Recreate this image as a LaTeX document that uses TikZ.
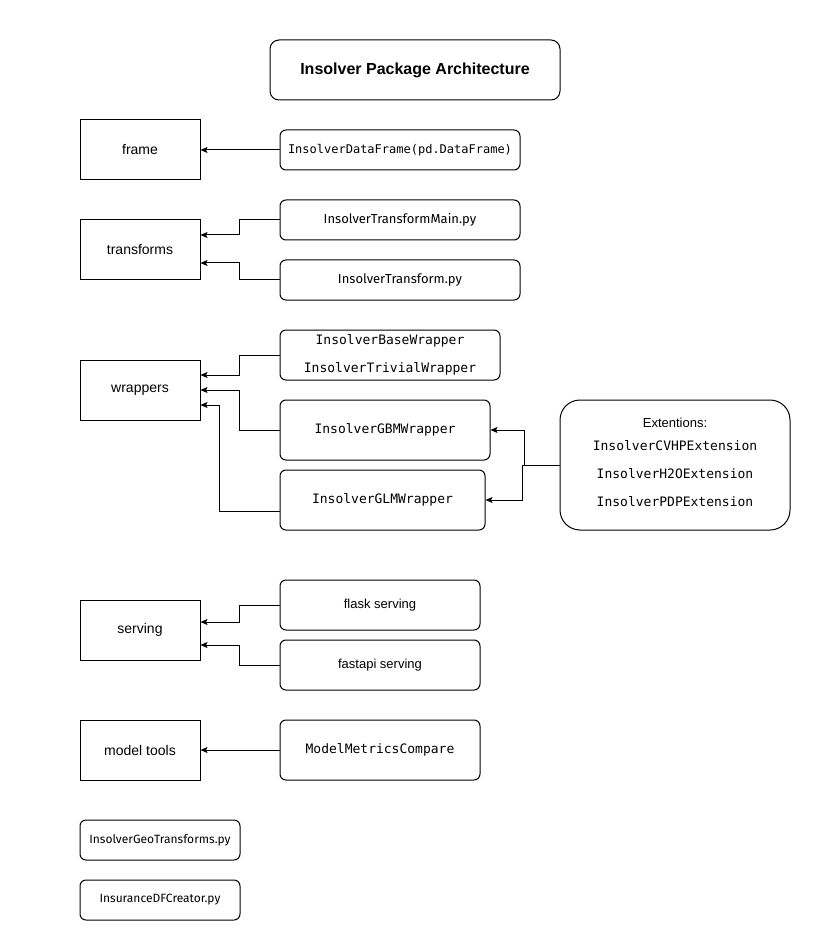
\documentclass[tikz,border=0pt]{standalone}
\usepackage{fontspec}
\setmainfont{Liberation Sans}
\setmonofont{DejaVu Sans Mono}
\newfontfamily\pyfont{Fira Sans}
\usetikzlibrary{arrows.meta}
\tikzset{
	pkgbox/.style={draw, line width=1pt, minimum width=120pt, minimum height=60pt, inner sep=0pt, font=\fontsize{14}{16}\selectfont},
	modbox/.style={draw, line width=1pt, rounded corners=6pt, inner sep=0pt, font=\fontsize{13}{28}\selectfont\ttfamily},
	pybox/.style={modbox, font=\fontsize{12}{14}\selectfont\pyfont},
	conn/.style={line width=1pt, -{Stealth[length=7pt,width=6pt,inset=1.5pt]}}
}
\begin{document}
\begin{tikzpicture}[x=1pt, y=-1pt]
		%%%%% START %%%%%
		\useasboundingbox[fill=white] (0, 0) rectangle (827, 949);
		
		\node[modbox, rounded corners=9pt, minimum width=290pt, minimum height=60pt, font=\fontsize{16}{18}\selectfont\bfseries] (title) at (415, 70) {Insolver Package Architecture};
		
		% packages
		\node[pkgbox] (frame) at (140, 150) {frame};
		\node[pkgbox] (transforms) at (140, 250) {transforms};
		\node[pkgbox] (wrappers) at (140, 390) {wrappers};
		\node[pkgbox] (serving) at (140, 630) {serving};
		\node[pkgbox] (tools) at (140, 750) {model tools};
		
		% modules
		\node[modbox, minimum width=240pt, minimum height=40pt, font=\fontsize{12}{14}\selectfont\ttfamily] (dataframe) at (400, 150) {InsolverDataFrame(pd.DataFrame)};
		\node[pybox, minimum width=240pt, minimum height=40pt, font=\fontsize{13}{15}\selectfont\pyfont] (tmain) at (400, 220) {InsolverTransformMain.py};
		\node[pybox, minimum width=240pt, minimum height=40pt, font=\fontsize{13}{15}\selectfont\pyfont] (transform) at (400, 280) {InsolverTransform.py};
		\node[modbox, minimum width=220pt, minimum height=50pt, align=center] (base) at (390, 355) {InsolverBaseWrapper\\InsolverTrivialWrapper};
		\node[modbox, minimum width=210pt, minimum height=60pt] (gbm) at (385, 430) {InsolverGBMWrapper};
		\node[modbox, minimum width=205pt, minimum height=60pt] (glm) at (382.5, 500) {InsolverGLMWrapper};
		\node[modbox, rounded corners=20pt, minimum width=230pt, minimum height=130pt] (ext) at (675, 465) {};
		\node[modbox, draw=none, align=center] (exttext) at (675, 462) {\rmfamily Extentions:\\[-5pt]InsolverCVHPExtension\\InsolverH2OExtension\\InsolverPDPExtension};
		\node[modbox, minimum width=200pt, minimum height=50pt, font=\fontsize{13}{15}\selectfont] (flask) at (380, 605) {flask serving};
		\node[modbox, minimum width=200pt, minimum height=50pt, font=\fontsize{13}{15}\selectfont] (fastapi) at (380, 665) {fastapi serving};
		\node[modbox, minimum width=200pt, minimum height=60pt] (metrics) at (380, 750) {ModelMetricsCompare};
		\node[pybox, minimum width=160pt, minimum height=40pt] (geo) at (160, 840) {InsolverGeoTransforms.py};
		\node[pybox, minimum width=160pt, minimum height=40pt] (creator) at (160, 900) {InsuranceDFCreator.py};
		
		% connectors
		\draw[conn] (dataframe) -- (frame);
		\draw[conn] (tmain.west) -- ++(-40, 0) |- ([yshift=15pt]transforms.east);
		\draw[conn] (transform.west) -- ++(-40, 0) |- ([yshift=-13pt]transforms.east);
		\draw[conn] (base.west) -- ++(-40, 0) |- ([yshift=15pt]wrappers.east);
		\draw[conn] (gbm.west) -- ++(-40, 0) |- (wrappers.east);
		\draw[conn] ([yshift=-11pt]glm.west) -- ++(-60, 0) |- ([yshift=-15pt]wrappers.east);
		\draw[conn] (ext.west) -- ++(-35, 0) |- (gbm.east);
		\draw[conn] (ext.west) -- ++(-37, 0) |- (glm.east);
		\draw[conn] (flask.west) -- ++(-40, 0) |- ([yshift=8pt]serving.east);
		\draw[conn] (fastapi.west) -- ++(-40, 0) |- ([yshift=-15pt]serving.east);
		\draw[conn] (metrics) -- (tools);
		%%%%% END %%%%%
\end{tikzpicture}
\end{document}
